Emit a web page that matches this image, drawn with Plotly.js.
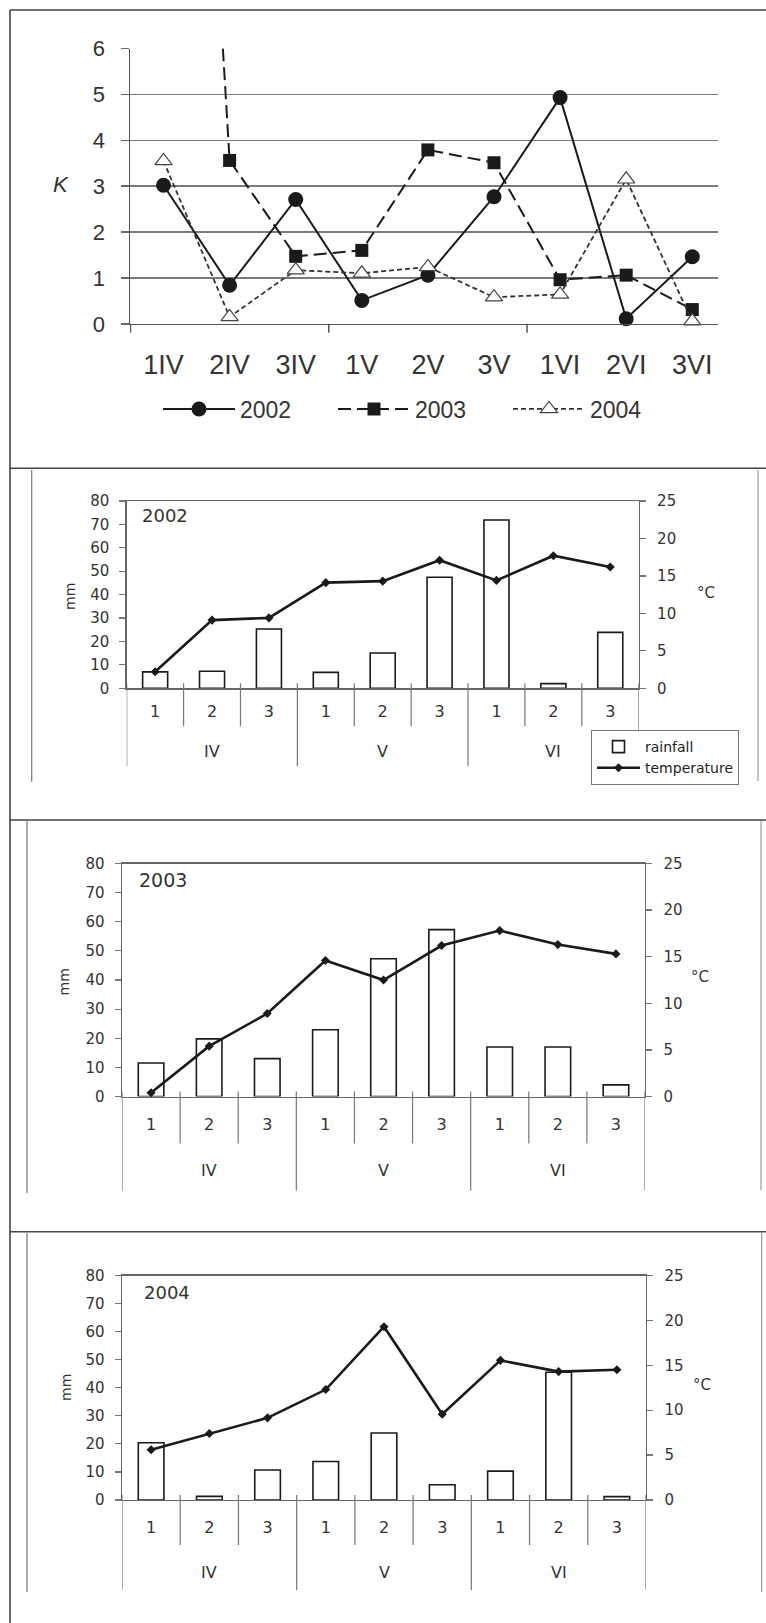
<!DOCTYPE html>
<html><head><meta charset="utf-8">
<script src="https://cdn.plot.ly/plotly-3.0.1.min.js"></script>
<style>html,body{margin:0;padding:0;background:#fff}#chart{width:766px;height:1623px}</style>
</head><body><div id="chart"></div>
<script>
// ---------------- data ----------------
const decades = ['1','2','3','1','2','3','1','2','3'];
const months  = ['IV','IV','IV','V','V','V','VI','VI','VI'];
const kYears  = ['2002','2003','2004'];
const k2002 = [3.02, 0.84, 2.71, 0.51, 1.06, 2.77, 4.93, 0.11, 1.46];
const k2003 = [27.5, 3.56, 1.47, 1.60, 3.79, 3.51, 0.96, 1.06, 0.31];
const k2004 = [3.55, 0.15, 1.17, 1.10, 1.24, 0.58, 0.64, 3.15, 0.06];
const rain2002 = [7.0, 7.3, 25.3, 6.8, 15.1, 47.4, 71.9, 2.0, 23.9];
const temp2002 = [2.2, 9.1, 9.4, 14.1, 14.3, 17.1, 14.4, 17.7, 16.2];
const rain2003 = [11.5, 19.8, 13.0, 22.9, 47.3, 57.3, 17.0, 17.0, 4.0];
const temp2003 = [0.4, 5.4, 8.9, 14.6, 12.5, 16.2, 17.8, 16.3, 15.3];
const rain2004 = [20.4, 1.3, 10.7, 13.7, 23.9, 5.45, 10.3, 45.5, 1.2];
const temp2004 = [5.6, 7.4, 9.15, 12.3, 19.3, 9.55, 15.55, 14.3, 14.5];
const seriesNames = ['rainfall', 'temperature'];
const kLabel = 'K';
const mmLabel = 'mm';
const degLabel = '°C';

// ---------------- helpers ----------------
const W = 766, H = 1623;
const px = x => x / W;
const py = y => 1 - y / H;
const keys = decades.map((d, i) => d + months[i]);
const groups = [];
months.forEach((m, i) => {
  const g = groups[groups.length - 1];
  if (!g || g.m !== m) groups.push({m: m, start: i, end: i}); else g.end = i;
});
const groupBounds = [groups[0].start - 0.5].concat(groups.map(g => g.end + 0.5));
const allBounds = keys.map((k, i) => i - 0.5).concat([keys.length - 0.5]);

const TXT = '#333';
const LINE = '#555';
const topFont = 'Liberation Sans, Arial, sans-serif';
const lowFont = 'DejaVu Sans, Verdana, sans-serif';

const data = [];
const layout = {
  width: W, height: H,
  margin: {l: 0, r: 0, t: 0, b: 0},
  paper_bgcolor: '#fff', plot_bgcolor: 'rgba(0,0,0,0)',
  showlegend: true,
  bargap: 0.56,
  font: {family: topFont, color: TXT},
  annotations: [], shapes: []
};
function vline(xref, xv, yTopPx, yBotPx, color, width) {
  layout.shapes.push({type: 'line', xref: xref, yref: 'paper', x0: xv, x1: xv,
    y0: py(yTopPx), y1: py(yBotPx), line: {color: color, width: width}});
}

// ---------------- top panel ----------------
const topRange = [-0.507, 8.389];
const topAxisY = 323.8;
const kSeries = [k2002, k2003, k2004];
const kStyles = [
  {line: {color: '#1a1a1a', width: 2, dash: 'solid'}, marker: {symbol: 'circle', size: 15, color: '#1a1a1a'}},
  {line: {color: '#1a1a1a', width: 2, dash: '13px,6px'}, marker: {symbol: 'square', size: 13, color: '#1a1a1a'}},
  {line: {color: '#333', width: 1.8, dash: '5px,3px'}, marker: {symbol: 'triangle-up', size: 15, color: '#fff', line: {color: '#444', width: 1.2}}}
];
kSeries.forEach((vals, i) => {
  data.push({
    type: 'scatter', mode: 'lines+markers', name: kYears[i],
    x: keys, y: vals, xaxis: 'x', yaxis: 'y',
    line: kStyles[i].line, marker: kStyles[i].marker,
    cliponaxis: false, legend: 'legend', hoverinfo: 'skip'
  });
});
layout.xaxis = {
  type: 'category', domain: [px(130), px(718)], anchor: 'y', range: topRange,
  ticks: '', showline: true, linecolor: LINE, linewidth: 1.5, showgrid: false,
  tickfont: {size: 27, family: topFont, color: TXT}, ticklabelstandoff: 16, fixedrange: true
};
layout.yaxis = {
  domain: [py(topAxisY), py(48.5)], anchor: 'x', range: [0, 6], dtick: 1, tick0: 0,
  ticks: 'outside', ticklen: 8, tickwidth: 1.5, tickcolor: '#666',
  showgrid: true, gridcolor: '#7a7a7a', gridwidth: 1.5,
  showline: true, linecolor: LINE, linewidth: 1.5, zeroline: false,
  tickfont: {size: 22, family: topFont, color: TXT}, ticklabelstandoff: 11, fixedrange: true
};
groupBounds.filter(b => b >= topRange[0] && b <= topRange[1]).forEach(b => {
  vline('x', b, topAxisY, topAxisY + 9, LINE, 1.5);
});
layout.legend = {
  orientation: 'h', x: px(158), xanchor: 'left', y: py(409), yanchor: 'middle',
  font: {size: 23, family: topFont, color: TXT}, bgcolor: 'rgba(0,0,0,0)',
  entrywidth: 88, entrywidthmode: 'pixels', itemwidth: 72
};
layout.annotations.push({
  text: '<i>' + kLabel + '</i>', xref: 'paper', yref: 'paper', x: px(61), y: py(184),
  xanchor: 'center', yanchor: 'middle', showarrow: false,
  font: {size: 22, family: topFont, color: TXT}
});

// ---------------- lower panels ----------------
const panels = [
  {year: kYears[0], rain: rain2002, temp: temp2002, xd: [126.7, 638.7], yd: [501, 688.3],
   tickLen: 38, innerOff: 8, divLen: 78, outerC: 63, yearPos: [140, 515], yearSize: 18,
   mm: [70, 597], deg: [706, 593], legend: true},
  {year: kYears[1], rain: rain2003, temp: temp2003, xd: [122, 645], yd: [863.5, 1096.5],
   tickLen: 47, innerOff: 13, divLen: 94, outerC: 74, yearPos: [137, 880], yearSize: 19,
   mm: [63.5, 982], deg: [700, 977], legend: false},
  {year: kYears[2], rain: rain2004, temp: temp2004, xd: [122, 646], yd: [1275.5, 1500],
   tickLen: 45, innerOff: 12, divLen: 90, outerC: 72, yearPos: [142, 1292], yearSize: 18,
   mm: [66, 1388], deg: [702, 1385], legend: false}
];

panels.forEach((p, i) => {
  const xc = 3 + i, yl = 3 + 2 * i, yr = yl + 1;
  const xcId = 'x' + xc, ylId = 'y' + yl, yrId = 'y' + yr;
  const axisY = p.yd[1];
  data.push({
    type: 'bar', name: seriesNames[0], x: keys, y: p.rain, xaxis: xcId, yaxis: ylId,
    marker: {color: '#fff', line: {color: '#1a1a1a', width: 1.6}},
    showlegend: p.legend, legend: 'legend2', hoverinfo: 'skip'
  });
  data.push({
    type: 'scatter', mode: 'lines+markers', name: seriesNames[1], x: keys, y: p.temp,
    xaxis: xcId, yaxis: yrId,
    line: {color: '#1a1a1a', width: 2.6}, marker: {symbol: 'diamond', size: 7, color: '#1a1a1a'},
    showlegend: p.legend, legend: 'legend2', hoverinfo: 'skip', cliponaxis: false
  });
  layout['xaxis' + xc] = {
    type: 'category', domain: [px(p.xd[0]), px(p.xd[1])], anchor: ylId, range: [-0.5, 8.5],
    tickmode: 'array', tickvals: keys, ticktext: decades, ticks: '',
    showline: true, mirror: true, linecolor: '#666', linewidth: 1.4, showgrid: false,
    tickfont: {size: 16, family: lowFont, color: TXT}, ticklabelstandoff: p.innerOff, fixedrange: true
  };
  layout['yaxis' + yl] = {
    domain: [py(p.yd[1]), py(p.yd[0])], anchor: xcId, range: [0, 80], dtick: 10, tick0: 0,
    ticks: 'outside', ticklen: 6, tickwidth: 1.2, tickcolor: '#777',
    showline: true, linecolor: '#666', linewidth: 1.4, showgrid: false, zeroline: false,
    tickfont: {size: 15, family: lowFont, color: TXT}, ticklabelstandoff: 7, fixedrange: true
  };
  layout['yaxis' + yr] = {
    overlaying: ylId, anchor: xcId, side: 'right', range: [0, 25], dtick: 5, tick0: 0,
    ticks: 'outside', ticklen: 6, tickwidth: 1.2, tickcolor: '#777',
    showline: true, linecolor: '#666', linewidth: 1.4, showgrid: false, zeroline: false,
    tickfont: {size: 15, family: lowFont, color: TXT}, ticklabelstandoff: 8, fixedrange: true
  };
  // category dividers (decade boundaries short, month boundaries long)
  allBounds.forEach(b => {
    const isGroup = groupBounds.indexOf(b) >= 0;
    vline(xcId, b, axisY - 5, axisY + (isGroup ? p.divLen : p.tickLen), '#777', 1.2);
  });
  // month labels
  groups.forEach(g => {
    layout.annotations.push({
      text: g.m, xref: xcId, yref: 'paper', x: keys[Math.round((g.start + g.end) / 2)],
      y: py(axisY + p.outerC), xanchor: 'center', yanchor: 'middle', showarrow: false,
      font: {size: 16, family: lowFont, color: TXT}
    });
  });
  layout.annotations.push({
    text: p.year, xref: 'paper', yref: 'paper', x: px(p.yearPos[0]), y: py(p.yearPos[1]),
    xanchor: 'left', yanchor: 'middle', showarrow: false,
    font: {size: p.yearSize, family: lowFont, color: TXT}
  });
  layout.annotations.push({
    text: mmLabel, xref: 'paper', yref: 'paper', x: px(p.mm[0]), y: py(p.mm[1]),
    xanchor: 'center', yanchor: 'middle', showarrow: false, textangle: -90,
    font: {size: 14, family: lowFont, color: TXT}
  });
  layout.annotations.push({
    text: degLabel, xref: 'paper', yref: 'paper', x: px(p.deg[0]), y: py(p.deg[1]),
    xanchor: 'center', yanchor: 'middle', showarrow: false,
    font: {size: 15, family: lowFont, color: TXT}
  });
});

layout.legend2 = {
  x: px(591), xanchor: 'left', y: py(730), yanchor: 'top',
  bordercolor: '#777', borderwidth: 1, bgcolor: '#fff',
  font: {size: 14, family: lowFont, color: '#222'}, itemwidth: 43
};

// ---------------- frame lines ----------------
function seg(x0, y0, x1, y1, color, width) {
  layout.shapes.push({type: 'line', xref: 'paper', yref: 'paper',
    x0: px(x0), y0: py(y0), x1: px(x1), y1: py(y1), line: {color: color, width: width}});
}
seg(10, 10, 10, 1623, '#444', 1.6);
seg(10, 10, 766, 10, '#444', 1.6);
seg(10, 468.3, 766, 468.3, '#444', 1.6);
seg(10, 820, 766, 820, '#444', 1.6);
seg(10, 1231.7, 766, 1231.7, '#444', 1.6);
seg(31.7, 470, 31.7, 781.7, '#777', 1.2);
seg(758, 470, 758, 781, '#999', 1.2);
seg(27, 821, 27, 1193, '#777', 1.2);
seg(761, 821, 761, 1190, '#999', 1.2);
seg(27, 1233, 27, 1592, '#777', 1.2);
seg(761.7, 1233, 761.7, 1592, '#999', 1.2);

Plotly.newPlot('chart', data, layout, {displayModeBar: false, staticPlot: true});
</script>
</body></html>
